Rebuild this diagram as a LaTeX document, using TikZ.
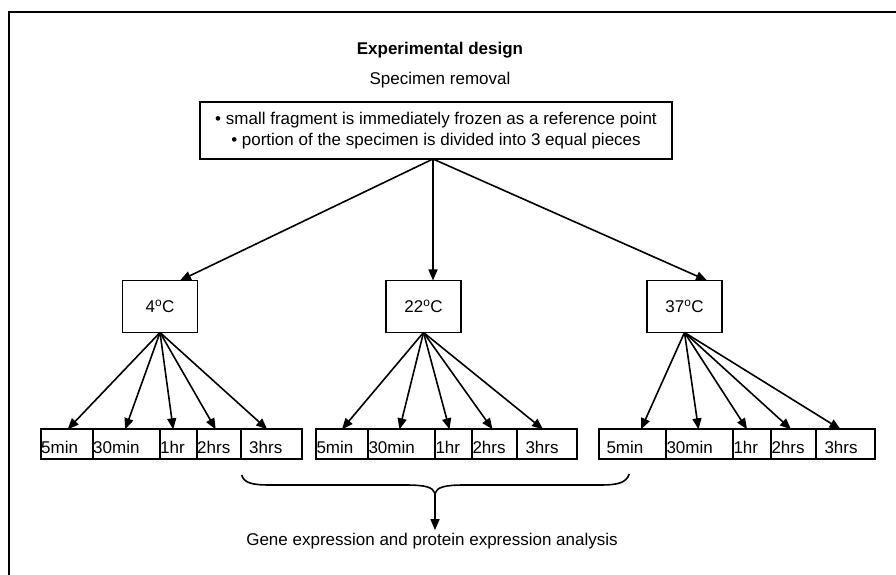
\documentclass[tikz,border=0pt]{standalone}
\usepackage{fontspec}
\setmainfont{Liberation Sans}
\usetikzlibrary{positioning,arrows.meta}

\begin{document}
\begin{tikzpicture}[x=1pt, y=1pt,
    font=\fontsize{17}{21}\selectfont,
    box/.style={draw, line width=1.6pt, outer sep=0pt},
    tempbox/.style={box, minimum width=75pt, minimum height=52pt},
    timebox/.style={box, inner xsep=0.5pt, inner ysep=2pt, minimum height=30pt,
        text height=20pt, text depth=1pt, align=left, text width=#1},
    arr/.style={line width=1.6pt, -{Triangle[length=11pt,width=9pt]}}]

    \useasboundingbox (0,0) rectangle (896,575);

    % Frame
    \draw[line width=2pt] (8.5,0) -- (8.5,563) -- (896,563);

    % Title and specimen box
    \node[font=\fontsize{17}{21}\selectfont\bfseries] (title) at (440,525) {Experimental design};
    \node (removal) at (440,495) {Specimen removal};
    \node[box, minimum width=472pt, minimum height=57pt, align=center] (big) at (436,444.5)
        {• small fragment is immediately frozen as a reference point\\
         • portion of the specimen is divided into 3 equal pieces};

    % Temperatures
    \node[tempbox] (tfour) at (160,268.5) {4\textsuperscript{o}C};
    \node[tempbox] (ttwentytwo) at (423.5,268.5) {22\textsuperscript{o}C};
    \node[tempbox] (tthirtyseven) at (684.5,268.5) {37\textsuperscript{o}C};

    \draw[arr] ([xshift=-3pt]big.south) -- ([xshift=20pt]tfour.north);
    \draw[arr] ([xshift=-3pt]big.south) -- ([xshift=9.5pt]ttwentytwo.north);
    \draw[arr] ([xshift=-3pt]big.south) -- ([xshift=22.5pt]tthirtyseven.north);

    % Times at 4 C
    \node[timebox=51pt, anchor=west] (fa) at (40.7,130.7) {5min};
    \node[timebox=66pt, right=0pt of fa] (fb) {30min};
    \node[timebox=36pt, right=0pt of fb] (fc) {1hr};
    \node[timebox=43pt, right=0pt of fc] (fd) {2hrs};
    \node[timebox=60pt, right=0pt of fd] (fe) {\hspace*{8pt}3hrs};

    % Times at 22 C
    \node[timebox=51pt, anchor=west] (ma) at (316,130.7) {5min};
    \node[timebox=66pt, right=0pt of ma] (mb) {30min};
    \node[timebox=36pt, right=0pt of mb] (mc) {1hr};
    \node[timebox=44pt, right=0pt of mc] (md) {2hrs};
    \node[timebox=59pt, right=0pt of md] (me) {\hspace*{8pt}3hrs};

    % Times at 37 C
    \node[timebox=66pt, anchor=west] (ta) at (599,130.7) {\hspace*{7pt}5min};
    \node[timebox=66pt, right=0pt of ta] (tb) {30min};
    \node[timebox=37pt, right=0pt of tb] (tc) {1hr};
    \node[timebox=44pt, right=0pt of tc] (td) {2hrs};
    \node[timebox=58pt, right=0pt of td] (te) {\hspace*{8pt}3hrs};

    \foreach \n/\s in {fa/1,fb/-1,fc/-5,fd/-3,fe/-4}
        \draw[arr] (tfour.south) -- ([xshift=\s pt]\n.north);
    \foreach \n/\s in {ma/0,mb/-2,mc/-4,md/-2,me/-4}
        \draw[arr] (ttwentytwo.south) -- ([xshift=\s pt]\n.north);
    \foreach \n/\s in {ta/8.5,tb/-1,tc/-5,td/-2.5,te/-5}
        \draw[arr] (tthirtyseven.south) -- ([xshift=\s pt]\n.north);

    % Brace and analysis
    \coordinate (bl) at (241.7,100);
    \coordinate (br) at (629.3,101);
    \coordinate (bt) at (435,81.7);
    \draw[line width=1.6pt] (bl) .. controls (244,92) and (252,90) .. (270,90) -- (405,90)
        .. controls (425,90) and (433,88) .. (bt)
        .. controls (437,88) and (445,90) .. (465,90) -- (600,90)
        .. controls (618,90) and (626,92) .. (br);
    \node[anchor=base] (analysis) at (432,29) {Gene expression and protein expression analysis};
    \draw[arr] (bt) -- (bt |- analysis.north);
\end{tikzpicture}
\end{document}
